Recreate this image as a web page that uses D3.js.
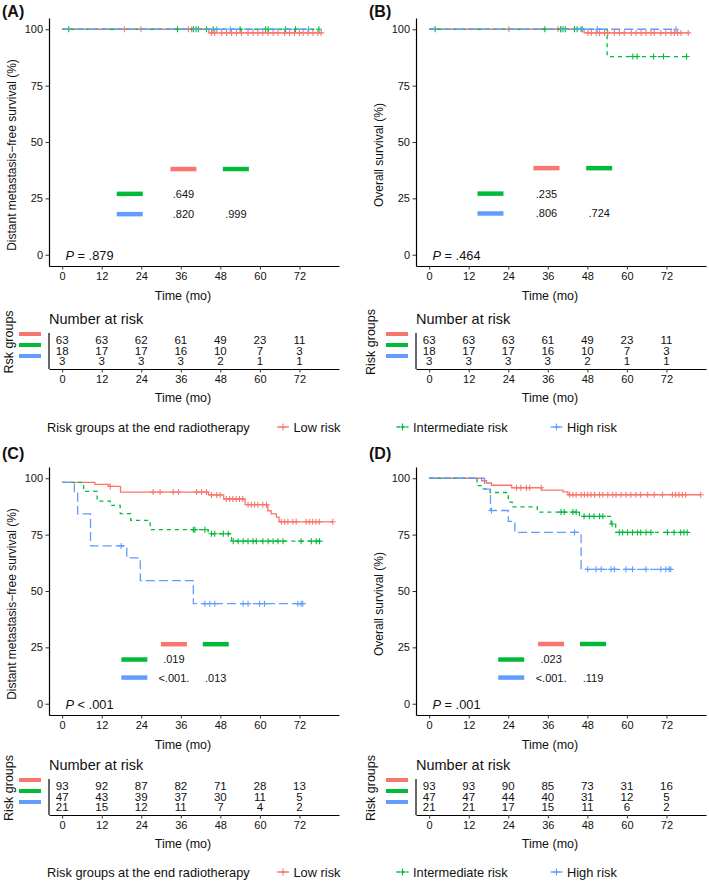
<!DOCTYPE html>
<html>
<head>
<meta charset="utf-8">
<script src="https://cdnjs.cloudflare.com/ajax/libs/d3/7.8.5/d3.min.js"></script>
<style>
    body { margin: 0; background: #fff; }
    text { font-family: "Liberation Sans", Arial, sans-serif; fill: #111; }
</style>
</head>
<body>
<script>
    const timeTicks = [0, 12, 24, 36, 48, 60, 72];
    const survTicks = [0, 25, 50, 75, 100];
    const groups = ["Low risk", "Intermediate risk", "High risk"];
    const colors = ["#F8766D", "#00BA38", "#619CFF"];
    const dashes = [null, "4,4", "9,4"];

    // (A) distant metastasis-free survival, end of radiotherapy groups (first cohort)
    const aLowSteps = [[0, 100], [44.5, 98.4]];
    const aLowCens = [18.9, 23.9, 38.3, 39.3, 45.3, 46.3, 48.4, 49.9, 51.4, 52.9, 54.4, 56.4, 57.9, 59.4, 60.9, 62.5, 64.0, 65.5, 67.5, 69.0, 70.5, 72.0, 73.1, 74.6, 76.1, 77.6, 78.6];
    const aIntSteps = [[0, 100]];
    const aIntCens = [2.0, 35.0, 39.8, 40.6, 41.3, 43.8, 45.8, 54.0, 61.7, 62.5, 67.8, 70.8, 77.9];
    const aHighSteps = [[0, 100]];
    const aHighCens = [46.9, 51.0, 74.8];
    const aRisk = [[63, 63, 62, 61, 49, 23, 11], [18, 17, 17, 16, 10, 7, 3], [3, 3, 3, 3, 2, 1, 1]];
    const aPairs = [".649", ".820", ".999"];

    // (B) overall survival
    const bLowSteps = [[0, 100], [47.0, 98.4]];
    const bLowCens = [24.2, 39.1, 39.9, 48.2, 49.2, 50.7, 51.7, 53.2, 54.2, 56.2, 57.7, 59.2, 61.3, 62.8, 64.3, 65.8, 67.3, 68.3, 70.3, 71.8, 73.4, 74.4, 75.4, 76.4, 78.6];
    const bIntSteps = [[0, 100], [54.0, 87.9]];
    const bIntCens = [1.8, 35.1, 39.9, 40.6, 41.3, 44.1, 44.9, 46.1, 61.8, 63.1, 68.1, 71.1, 78.1];
    const bHighSteps = [[0, 100]];
    const bHighCens = [46.5, 51.0, 74.9];
    const bRisk = [[63, 63, 63, 61, 49, 23, 11], [18, 17, 17, 16, 10, 7, 3], [3, 3, 3, 3, 2, 1, 1]];
    const bPairs = [".235", ".806", ".724"];

    // (C) distant metastasis-free survival (second cohort)
    const cLowSteps = [[0, 98.2], [9.9, 97.3], [14.1, 96.4], [17.7, 93.9], [44.4, 92.6], [49.0, 90.8], [55.5, 88.3], [62.4, 85.6], [63.4, 84.2], [65.0, 82.8], [65.8, 80.7]];
    const cLowCens = [14.6, 27.6, 29.7, 33.7, 35.3, 40.8, 42.3, 43.8, 45.3, 46.9, 47.9, 49.8, 50.8, 51.8, 52.8, 53.8, 54.8, 56.4, 57.4, 58.4, 59.4, 60.9, 62.0, 66.5, 67.5, 68.5, 70.0, 71.0, 74.0, 75.0, 76.0, 77.0, 78.0, 82.1];
    const cIntSteps = [[0, 98.2], [6.5, 94.2], [10.6, 89.9], [14.6, 88.0], [17.6, 84.3], [20.8, 81.3], [26.7, 77.2], [44.3, 75.4], [51.4, 72.1]];
    const cIntCens = [39.8, 40.3, 43.3, 45.3, 46.3, 48.9, 50.4, 51.9, 53.4, 54.9, 56.4, 57.9, 58.9, 60.9, 62.5, 64.0, 65.5, 67.0, 72.5, 75.6, 77.1, 78.1];
    const cHighSteps = [[0, 98.2], [3.7, 93.5], [4.7, 84.2], [8.6, 70.0], [19.6, 64.7], [23.7, 54.6], [39.8, 44.4]];
    const cHighCens = [17.9, 43.3, 44.8, 46.3, 54.9, 56.4, 59.9, 61.4, 71.5, 72.5, 73.0];
    const cRisk = [[93, 92, 87, 82, 71, 28, 13], [47, 43, 39, 37, 30, 11, 5], [21, 15, 12, 11, 7, 4, 2]];
    const cPairs = [".019", "<.001.", ".013"];

    // (D) overall survival
    const dLowSteps = [[0, 100], [15.9, 98.9], [17.4, 97.9], [18.9, 96.9], [25.0, 95.8], [34.1, 94.7], [40.6, 94.0], [42.1, 92.7]];
    const dLowCens = [26.5, 27.8, 29.5, 30.5, 34.0, 42.6, 43.6, 44.6, 46.1, 47.1, 48.1, 49.1, 50.2, 51.7, 52.7, 54.2, 55.7, 56.7, 58.2, 59.7, 61.2, 62.7, 64.2, 66.3, 68.3, 70.8, 73.8, 74.8, 75.8, 76.8, 77.8, 82.4];
    const dIntSteps = [[0, 100], [14.5, 96.7], [16.0, 95.3], [18.5, 93.7], [24.0, 89.4], [25.2, 87.3], [32.8, 85.0], [45.6, 83.1], [55.2, 79.7], [56.6, 76.0]];
    const dIntCens = [40.0, 41.0, 43.6, 44.6, 47.0, 48.6, 50.0, 51.7, 52.7, 55.5, 57.7, 58.7, 60.2, 61.7, 63.2, 64.2, 65.8, 67.3, 72.3, 74.3, 76.3, 77.3, 78.3];
    const dHighSteps = [[0, 100], [16.8, 95.2], [18.6, 85.7], [24.0, 80.9], [26.0, 76.0], [46.1, 59.6]];
    const dHighCens = [18.9, 44.1, 48.1, 50.6, 52.2, 55.2, 56.2, 59.7, 61.7, 65.8, 70.3, 71.8, 72.8, 73.3];
    const dRisk = [[93, 93, 90, 85, 73, 31, 16], [47, 47, 44, 40, 31, 12, 5], [21, 21, 17, 15, 11, 6, 2]];
    const dPairs = [".023", "<.001.", ".119"];

    const panels = [
        { ox: 0, oy: 0, tOy: 0, label: "(A)", labelY: 17, yTitle: "Distant metastasis\u2212free survival (%)", pOp: " = .879",
          curves: [[aLowSteps, aLowCens], [aIntSteps, aIntCens], [aHighSteps, aHighCens]], risk: aRisk, pairs: aPairs,
          pairCols: [20.5, 36.8, 52.7], pairRows: [38, 27, 18], groupTitle: "Rsk groups" },
        { ox: 367, oy: 0, tOy: 0, label: "(B)", labelY: 17, yTitle: "Overall survival (%)", pOp: " = .464",
          curves: [[bLowSteps, bLowCens], [bIntSteps, bIntCens], [bHighSteps, bHighCens]], risk: bRisk, pairs: bPairs,
          pairCols: [18.6, 35.6, 51.6], pairRows: [38.4, 27.1, 18.3], groupTitle: "Risk groups" },
        { ox: 0, oy: 449, tOy: 446, label: "(C)", labelY: 459, yTitle: "Distant metastasis\u2212free survival (%)", pOp: " < .001",
          curves: [[cLowSteps, cLowCens], [cIntSteps, cIntCens], [cHighSteps, cHighCens]], risk: cRisk, pairs: cPairs,
          pairCols: [21.9, 33.9, 46.6], pairRows: [26.4, 19.6, 11.6], groupTitle: "Risk groups" },
        { ox: 367, oy: 449, tOy: 446, label: "(D)", labelY: 459, yTitle: "Overall survival (%)", pOp: " = .001",
          curves: [[dLowSteps, dLowCens], [dIntSteps, dIntCens], [dHighSteps, dHighCens]], risk: dRisk, pairs: dPairs,
          pairCols: [24.9, 37.0, 49.7], pairRows: [26.5, 19.6, 11.6], groupTitle: "Risk groups" }
    ];

    const svg = d3.select("body").append("svg")
        .attr("width", 709)
        .attr("height", 882);

    function survAt(steps, t) {
        let s = steps[0][1];
        steps.forEach(d => { if (d[0] <= t) s = d[1]; });
        return s;
    }

    function plus(sel, size) {
        return sel.attr("d", d => `M${d[0] - size},${d[1]}h${size * 2}M${d[0]},${d[1] - size}v${size * 2}`);
    }

    function styleAxis(g) {
        g.selectAll(".domain").attr("stroke", "#000").attr("stroke-width", 1.2);
        g.selectAll(".tick line").attr("stroke", "#333");
        g.selectAll(".tick text").attr("font-size", 11).attr("fill", "#333")
            .style("font-family", '"Liberation Sans", Arial, sans-serif');
    }

    function drawPanel(p) {
        const x = d3.scaleLinear().domain([-4, 84]).range([p.ox + 49, p.ox + 339]);
        const y = d3.scaleLinear().domain([-5, 105]).range([p.oy + 266, p.oy + 18]);
        const g = svg.append("g");

        g.append("text").attr("x", p.ox + 2).attr("y", p.labelY)
            .attr("font-size", 16).attr("font-weight", "bold").text(p.label);

        // axes
        g.append("g").attr("transform", `translate(0,${p.oy + 266})`)
            .call(d3.axisBottom(x).tickValues(timeTicks).tickSize(3.5).tickSizeOuter(0).tickPadding(3))
            .call(styleAxis);
        g.append("g").attr("transform", `translate(${p.ox + 49},0)`)
            .call(d3.axisLeft(y).tickValues(survTicks).tickSize(3.5).tickSizeOuter(0).tickPadding(2.5))
            .call(styleAxis);

        g.append("text").attr("x", p.ox + 183).attr("y", p.oy + 299.5)
            .attr("text-anchor", "middle").attr("font-size", 12.5).text("Time (mo)");
        g.append("text").attr("transform", `translate(${p.ox + 16},${p.oy + 155}) rotate(-90)`)
            .attr("text-anchor", "middle").attr("font-size", 12).text(p.yTitle);

        // survival curves
        const line = d3.line().x(d => x(d[0])).y(d => y(d[1])).curve(d3.curveStepAfter);
        p.curves.forEach((c, i) => {
            const steps = c[0], cens = c[1];
            const end = d3.max(cens);
            const pts = steps.concat([[end, steps[steps.length - 1][1]]]);
            g.append("path").attr("d", line(pts))
                .attr("fill", "none").attr("stroke", colors[i]).attr("stroke-width", 1.3)
                .attr("stroke-dasharray", dashes[i]);
            g.selectAll(null).data(cens.map(t => [x(t), y(survAt(steps, t))]))
                .enter().append("path").call(plus, 3)
                .attr("stroke", colors[i]).attr("stroke-width", 1.1);
        });

        // pairwise p-value table: header row (low, intermediate), row labels (intermediate, high)
        const bw = 13;
        const pairBars = [[1, 0, 0], [2, 0, 1], [0, 1, 1], [0, 2, 2]]; // [col, row, colour]
        pairBars.forEach(([ci, ri, k]) => {
            g.append("line")
                .attr("x1", x(p.pairCols[ci]) - bw).attr("x2", x(p.pairCols[ci]) + bw)
                .attr("y1", y(p.pairRows[ri])).attr("y2", y(p.pairRows[ri]))
                .attr("stroke", colors[k]).attr("stroke-width", 4.5);
        });
        const pairPos = [[1, 1], [1, 2], [2, 2]];
        p.pairs.forEach((t, i) => {
            g.append("text").attr("x", x(p.pairCols[pairPos[i][0]])).attr("y", y(p.pairRows[pairPos[i][1]]))
                .attr("dy", "0.36em").attr("text-anchor", "middle").attr("font-size", 11).text(t);
        });

        const pt = g.append("text").attr("x", x(1)).attr("y", y(0) + 1)
            .attr("dy", "0.36em").attr("font-size", 12.8);
        pt.append("tspan").attr("font-style", "italic").text("P");
        pt.append("tspan").text(p.pOp);

        // number at risk table
        const ty = p.tOy;
        const row = d3.scalePoint().domain(groups).range([ty + 340, ty + 361]);
        g.append("text").attr("x", p.ox + 49).attr("y", ty + 319).attr("dy", "0.36em")
            .attr("font-size", 14.5).text("Number at risk");
        g.append("g").attr("transform", `translate(0,${ty + 369})`)
            .call(d3.axisBottom(x).tickValues(timeTicks).tickSize(3.5).tickSizeOuter(0).tickPadding(2.5))
            .call(styleAxis);
        g.append("line").attr("x1", p.ox + 49).attr("x2", p.ox + 49)
            .attr("y1", ty + 333).attr("y2", ty + 369).attr("stroke", "#000").attr("stroke-width", 1.2);
        groups.forEach((grp, i) => {
            g.selectAll(null).data(p.risk[i]).enter().append("text")
                .attr("x", (d, j) => x(timeTicks[j])).attr("y", row(grp))
                .attr("dy", "0.36em").attr("text-anchor", "middle").attr("font-size", 11.5).text(d => d);
            g.append("line").attr("x1", p.ox + 19).attr("x2", p.ox + 41)
                .attr("y1", row(grp) - 6 + i * 0.5).attr("y2", row(grp) - 6 + i * 0.5)
                .attr("stroke", colors[i]).attr("stroke-width", 4);
        });
        g.append("text").attr("x", p.ox + 183).attr("y", ty + 401.5)
            .attr("text-anchor", "middle").attr("font-size", 12.5).text("Time (mo)");
        g.append("text").attr("transform", `translate(${p.ox + (p.ox ? 8 : 12.5)},${ty + 342}) rotate(-90)`)
            .attr("text-anchor", "middle").attr("font-size", 12.5).text(p.groupTitle);
    }

    panels.forEach(drawPanel);

    // legends
    const legendKeys = [283, 402.5, 556.5];
    [427, 872].forEach(ly => {
        svg.append("text").attr("x", 47).attr("y", ly).attr("dy", "0.36em")
            .attr("font-size", 12.8).text("Risk groups at the end radiotherapy");
        groups.forEach((grp, i) => {
            const cx = legendKeys[i];
            svg.append("line").attr("x1", cx - 6).attr("x2", cx + 6).attr("y1", ly).attr("y2", ly)
                .attr("stroke", colors[i]).attr("stroke-width", 1.3).attr("stroke-dasharray", i === 1 ? "3,2" : null);
            svg.append("path").datum([cx, ly]).call(plus, 3.5)
                .attr("stroke", colors[i]).attr("stroke-width", 1.1);
            svg.append("text").attr("x", cx + 10.5).attr("y", ly).attr("dy", "0.36em")
                .attr("font-size", 12.8).text(grp);
        });
    });
</script>
</body>
</html>
